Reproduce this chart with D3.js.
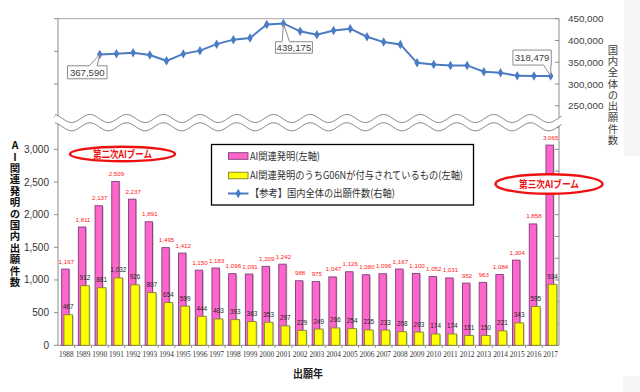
<!DOCTYPE html>
<html><head><meta charset="utf-8">
<script src="https://cdn.jsdelivr.net/npm/d3@7/dist/d3.min.js"></script>
<style>
html,body{margin:0;padding:0;background:#fff;}
svg{display:block;}
.vt{writing-mode:vertical-rl;text-orientation:upright;}
</style></head>
<body>
<svg id="c" width="640" height="392"></svg>
<script>
// ---------------- DATA ----------------
const years = d3.range(1988, 2018).map(String);
const aiTotal = [1167,1811,2137,2509,2237,1891,1495,1412,1150,1183,1096,1091,1209,1242,988,975,1047,1126,1080,1096,1167,1100,1052,1031,952,963,1084,1304,1858,3065];
const aiG06N  = [467,912,881,1032,926,807,654,599,444,403,393,363,353,297,229,249,266,254,235,233,208,203,174,174,151,150,221,343,595,934];
const lineYears = d3.range(1990, 2018).map(String);
const allJapan = [367590,369396,371894,366486,353301,369215,376615,391572,401932,405655,436865,439175,421044,413092,423081,427078,408674,396291,391002,348596,344598,342610,342796,328436,325989,318721,318381,318479];
const leftTicks = [0,500,1000,1500,2000,2500,3000];
const rightTicks = [250000,300000,350000,400000,450000];
const calloutYears = ["1990","2001","2017"];
const legendLabels = ["AI関連発明(左軸)","AI関連発明のうちG06Nが付与されているもの(左軸)","【参考】国内全体の出願件数(右軸)"];
const boomLabels = ["第二次AIブーム","第三次AIブーム"];
const leftTitle = "AI関連発明の国内出願件数";
const rightTitle = "国内全体の出願件数";
const xTitle = "出願年";

// ---------------- SETUP ----------------
const svg = d3.select("#c");
const L = 58, R = 559, T = 18.7, B = 345.3;
const x = d3.scaleBand().domain(years).range([L, R]).padding(0);
const bw = x.bandwidth();
const yL = d3.scaleLinear().domain([0, 5000]).range([B, T]);
const yR = d3.scaleLinear().domain([-300000, 450000]).range([B, T]);
const fmt = d3.format(",");
const NUM = "'Liberation Sans', Arial, sans-serif";
const JP = "'Noto Sans CJK JP', sans-serif";
const axisGray = "#8c8c8c";

// light grey patches at the right border
svg.append("rect").attr("x", 624).attr("y", 0).attr("width", 16).attr("height", 156).attr("fill", "#f6f6f6");
svg.append("rect").attr("x", 623).attr("y", 376).attr("width", 17).attr("height", 16).attr("fill", "#f6f6f6");

// plot frame
const frame = svg.append("g").attr("stroke", axisGray).attr("stroke-width", 1).attr("fill", "none");
frame.append("line").attr("x1", L).attr("x2", R).attr("y1", T).attr("y2", T).attr("stroke", "#a6a6a6");
frame.append("line").attr("x1", L).attr("x2", L).attr("y1", T).attr("y2", B);
frame.append("line").attr("x1", R).attr("x2", R).attr("y1", T).attr("y2", B);
frame.append("line").attr("x1", L).attr("x2", R).attr("y1", B).attr("y2", B);

// left axis ticks (outward)
const leftAll = d3.range(0, 5001, 500);
svg.append("g").selectAll("line").data(leftAll).join("line")
  .attr("x1", L - 4).attr("x2", L).attr("y1", d => yL(d)).attr("y2", d => yL(d))
  .attr("stroke", axisGray);
// right axis ticks (inward)
const rightAll = d3.range(-300000, 450001, 50000);
svg.append("g").selectAll("line").data(rightAll).join("line")
  .attr("x1", R - 4).attr("x2", R).attr("y1", d => yR(d)).attr("y2", d => yR(d))
  .attr("stroke", axisGray);
// category ticks
svg.append("g").selectAll("line").data(years.slice(1)).join("line")
  .attr("x1", d => x(d)).attr("x2", d => x(d)).attr("y1", B).attr("y2", B + 2.5)
  .attr("stroke", axisGray);

// left tick labels
svg.append("g").selectAll("text").data(leftTicks).join("text")
  .attr("x", 49).attr("y", d => yL(d) + 3.5).attr("text-anchor", "end")
  .attr("font-family", NUM).attr("font-size", 10).attr("fill", "#333")
  .text(d => fmt(d));
// right tick labels
svg.append("g").selectAll("text").data(rightTicks).join("text")
  .attr("x", 568).attr("y", d => yR(d) + 3.5).attr("text-anchor", "start")
  .attr("font-family", NUM).attr("font-size", 9.8).attr("fill", "#404040")
  .text(d => fmt(d));
// year labels
svg.append("g").selectAll("text").data(years).join("text")
  .attr("x", d => x(d) + bw / 2).attr("y", 356.5).attr("text-anchor", "middle")
  .attr("font-family", "'Liberation Serif', serif").attr("font-size", 7.4).attr("fill", "#333")
  .text(d => d);

// ---------------- BARS ----------------
const pinkX = d => x(d) + bw / 2 - 4.7, pinkW = 7.4;
const yelX = d => x(d) + bw / 2 - 2.4, yelW = 8.6;
const gBars = svg.append("g");
gBars.selectAll("rect.ps").data(years).join("rect").attr("class", "ps")
  .attr("x", (d) => pinkX(d) + 1.2).attr("y", (d, i) => yL(aiTotal[i]) + 1)
  .attr("width", pinkW).attr("height", (d, i) => B - yL(aiTotal[i]) - 1)
  .attr("fill", "#c8c8c8");
gBars.selectAll("rect.p").data(years).join("rect").attr("class", "p")
  .attr("x", pinkX).attr("y", (d, i) => yL(aiTotal[i]))
  .attr("width", pinkW).attr("height", (d, i) => B - yL(aiTotal[i]))
  .attr("fill", "#ff66cc").attr("stroke", "#7a3f7a").attr("stroke-width", 0.9);
gBars.selectAll("rect.ys").data(years).join("rect").attr("class", "ys")
  .attr("x", (d) => yelX(d) + 1.2).attr("y", (d, i) => yL(aiG06N[i]) + 1)
  .attr("width", yelW).attr("height", (d, i) => B - yL(aiG06N[i]) - 1)
  .attr("fill", "#c8c8c8");
gBars.selectAll("rect.y").data(years).join("rect").attr("class", "y")
  .attr("x", yelX).attr("y", (d, i) => yL(aiG06N[i]))
  .attr("width", yelW).attr("height", (d, i) => B - yL(aiG06N[i]))
  .attr("fill", "#ffff00").attr("stroke", "#7f7f3a").attr("stroke-width", 0.9);

// bar labels
svg.append("g").selectAll("text").data(years).join("text")
  .attr("x", d => x(d) + bw / 2).attr("y", (d, i) => yL(aiTotal[i]) - 5.5)
  .attr("text-anchor", "middle").attr("font-family", NUM).attr("font-size", 6.2)
  .attr("fill", "#ff2020").text((d, i) => fmt(aiTotal[i]));
svg.append("g").selectAll("text").data(years).join("text")
  .attr("x", d => yelX(d) + yelW / 2).attr("y", (d, i) => yL(aiG06N[i]) - 5.5)
  .attr("text-anchor", "middle").attr("font-family", NUM).attr("font-size", 6.4)
  .attr("fill", "#222").text((d, i) => fmt(aiG06N[i]));

// ---------------- LINE ----------------
const lx = d => x(d) + bw / 2;
const lineData = lineYears.map((y, i) => ({ y, v: allJapan[i] }));
svg.append("path").datum(lineData)
  .attr("d", d3.line().x(d => lx(d.y)).y(d => yR(d.v)))
  .attr("fill", "none").attr("stroke", "#4a7cc4").attr("stroke-width", 2);
svg.append("g").selectAll("path").data(lineData).join("path")
  .attr("d", d3.symbol().type(d3.symbolDiamond).size(26))
  .attr("transform", d => `translate(${lx(d.y)},${yR(d.v)})`)
  .attr("fill", "#4a7cc4");

// callouts
const callCfg = {
  "1990": { dx: -32.3, dy: 11.2, w: 39.6, h: 13, side: "top", b1: 0.55, b2: 0.75 },
  "2001": { dx: -8, dy: 18.3, w: 37, h: 11.5, side: "top", b1: 0.18, b2: 0.38 },
  "2017": { dx: -37.7, dy: -25.9, w: 38.3, h: 15, side: "bottom", b1: 0.8, b2: 0.99 }
};
calloutYears.forEach(yr => {
  const v = allJapan[lineYears.indexOf(yr)];
  const px = lx(yr), py = yR(v), c = callCfg[yr];
  const bx = px + c.dx, by = py + c.dy, w = c.w, h = c.h;
  const x1 = bx + w * c.b1, x2 = bx + w * c.b2;
  let p;
  if (c.side === "top") {
    p = `M${bx},${by}L${x1},${by}L${px},${py}L${x2},${by}L${bx + w},${by}L${bx + w},${by + h}L${bx},${by + h}Z`;
  } else {
    p = `M${bx},${by}L${bx + w},${by}L${bx + w},${by + h}L${x2},${by + h}L${px},${py}L${x1},${by + h}L${bx},${by + h}Z`;
  }
  svg.append("path").attr("d", p).attr("fill", "#fff").attr("stroke", "#7f7f7f").attr("stroke-width", 0.9);
  svg.append("text").attr("x", bx + w / 2).attr("y", by + h / 2 + 3.4)
    .attr("text-anchor", "middle").attr("font-family", NUM).attr("font-size", 9.6)
    .attr("fill", "#404040").text(fmt(v));
});

// ---------------- AXIS BREAK ----------------
const P = 36.7, A = 4, x0 = 90;
const wx = d3.range(55, 562, 0.5);
const waveY = (cx, cy) => cy - A * Math.cos(2 * Math.PI * (cx - x0) / P);
const upper = wx.map(v => [v, waveY(v, 118.5)]);
const lower = wx.map(v => [v, waveY(v, 126.8)]);
svg.append("path").attr("d", d3.area().x(d => d[0]).y0(d => d[1]).y1((d, i) => lower[i][1])(upper))
  .attr("fill", "#fff");
svg.append("path").attr("d", d3.line()(upper)).attr("fill", "none").attr("stroke", "#777").attr("stroke-width", 1);
svg.append("path").attr("d", d3.line()(lower)).attr("fill", "none").attr("stroke", "#777").attr("stroke-width", 1);

// ---------------- LEGEND ----------------
const lg = svg.append("g");
lg.append("rect").attr("x", 211.5).attr("y", 144.5).attr("width", 262).attr("height", 60.5)
  .attr("fill", "#fff").attr("stroke", "#000").attr("stroke-width", 1.3);
const legY = [156, 175.5, 193.5];
const legLen = [70, 213, 145];
lg.append("rect").attr("x", 228.5).attr("y", legY[0] - 3.3).attr("width", 19.5).attr("height", 6.6)
  .attr("fill", "#ff66cc").attr("stroke", "#7a3f7a").attr("stroke-width", 0.9);
lg.append("rect").attr("x", 228.5).attr("y", legY[1] - 3.3).attr("width", 19.5).attr("height", 6.6)
  .attr("fill", "#ffff00").attr("stroke", "#7f7f3a").attr("stroke-width", 0.9);
lg.append("line").attr("x1", 228).attr("x2", 248.5).attr("y1", legY[2]).attr("y2", legY[2])
  .attr("stroke", "#4a7cc4").attr("stroke-width", 2);
lg.append("path").attr("d", d3.symbol().type(d3.symbolDiamond).size(26))
  .attr("transform", `translate(238.2,${legY[2]})`).attr("fill", "#4a7cc4");
lg.selectAll("text").data(legendLabels).join("text")
  .attr("x", 250).attr("y", (d, i) => legY[i] + 3.8)
  .attr("font-family", JP).attr("font-size", 10.5).attr("fill", "#333")
  .attr("textLength", (d, i) => legLen[i]).attr("lengthAdjust", "spacingAndGlyphs")
  .text(d => d);

// ---------------- BOOM ELLIPSES ----------------
const booms = [{ cx: 122.5, cy: 154, rx: 52.5, ry: 7.2, tl: 59 }, { cx: 549, cy: 184, rx: 53.5, ry: 9.8, tl: 60 }];
booms.forEach((b, i) => {
  svg.append("ellipse").attr("cx", b.cx).attr("cy", b.cy).attr("rx", b.rx).attr("ry", b.ry)
    .attr("fill", "#fff").attr("stroke", "#ee1111").attr("stroke-width", 2.4);
  svg.append("text").attr("x", b.cx).attr("y", b.cy + 3.8).attr("text-anchor", "middle")
    .attr("font-family", JP).attr("font-weight", "bold").attr("font-size", 10.5)
    .attr("fill", "#ee1111").attr("textLength", b.tl).attr("lengthAdjust", "spacingAndGlyphs")
    .text(boomLabels[i]);
});

// ---------------- TITLES (vertical) ----------------
svg.append("text").attr("class", "vt").attr("x", 15).attr("y", 140)
  .attr("font-family", JP).attr("font-weight", "bold").attr("font-size", 10.4).attr("fill", "#111")
  .attr("letter-spacing", 1.0).text(leftTitle);
svg.append("text").attr("class", "vt").attr("x", 613).attr("y", 44.8)
  .attr("font-family", JP).attr("font-size", 10.4).attr("fill", "#404040")
  .attr("letter-spacing", 0.85).text(rightTitle);
svg.append("text").attr("x", 308).attr("y", 377.5).attr("text-anchor", "middle")
  .attr("font-family", JP).attr("font-weight", "bold").attr("font-size", 11).attr("fill", "#222")
  .attr("textLength", 30).attr("lengthAdjust", "spacingAndGlyphs").text(xTitle);
</script>
</body></html>
